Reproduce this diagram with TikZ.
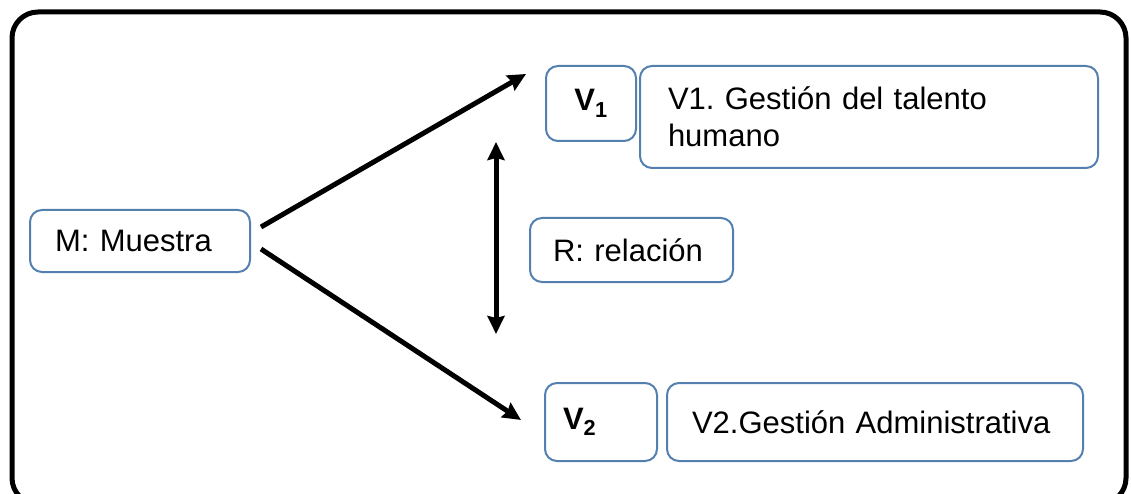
\documentclass[tikz,border=0pt]{standalone}
\usepackage{fontspec}
\setmainfont{Liberation Sans}
\usetikzlibrary{arrows.meta}
\definecolor{boxblue}{RGB}{84,128,176}
\tikzset{
	box/.style={draw=boxblue,line width=2pt,rounded corners=12pt,align=left,inner ysep=0pt},
	arr/.style={line width=5pt,-{Stealth[length=18pt,width=17pt,inset=2pt]}},
	frame/.style={line width=5pt,rounded corners=26pt}
}
\frenchspacing
\begin{document}
\begin{tikzpicture}[x=1pt,y=-1pt,font=\fontsize{31}{37}\selectfont]
				\useasboundingbox (0,0) rectangle (1131,494);
				% outer frame
				\begin{scope}
					\clip (0,0) rectangle (1131,494);
					\draw[frame] (12,12) rectangle (1126,504);
				\end{scope}
				% boxes
				\node[box,minimum height=62pt,text width=170pt,inner xsep=25pt] (m) at (140,241) {M: Muestra};
				\node[box,minimum width=90pt,minimum height=75pt,align=center] (v1s) at (591,103.5) {\textbf{V\textsubscript{1}}};
				\node[box,minimum height=102pt,text width=402pt,inner xsep=28pt] (v1b) at (869,117) {V1. Gestión del talento\\humano};
				\node[box,minimum height=64pt,text width=157pt,inner xsep=23pt] (r) at (631.5,250) {R: relación};
				\node[box,minimum height=78pt,text width=76pt,inner xsep=18pt] (v2s) at (601,422) {\textbf{V\textsubscript{2}}};
				\node[box,minimum height=78pt,text width=366pt,inner xsep=25pt] (v2b) at (875,422) {V2.Gestión Administrativa};
				% arrows
				\draw[arr] ([xshift=10pt,yshift=-18pt]m.north east) -- ([xshift=-19pt,yshift=-9pt]v1s.north west);
				\draw[arr] ([xshift=10pt,yshift=24pt]m.south east) -- ([xshift=-23pt,yshift=2pt]v2s.west);
				\coordinate (rtop) at ([xshift=-33pt,yshift=108pt]r.west);
				\coordinate (rbot) at ([xshift=-33pt,yshift=-84pt]r.west);
				\draw[arr,{Stealth[length=18pt,width=17pt,inset=2pt]}-{Stealth[length=18pt,width=17pt,inset=2pt]}] (rtop) -- (rbot);
\end{tikzpicture}
\end{document}
